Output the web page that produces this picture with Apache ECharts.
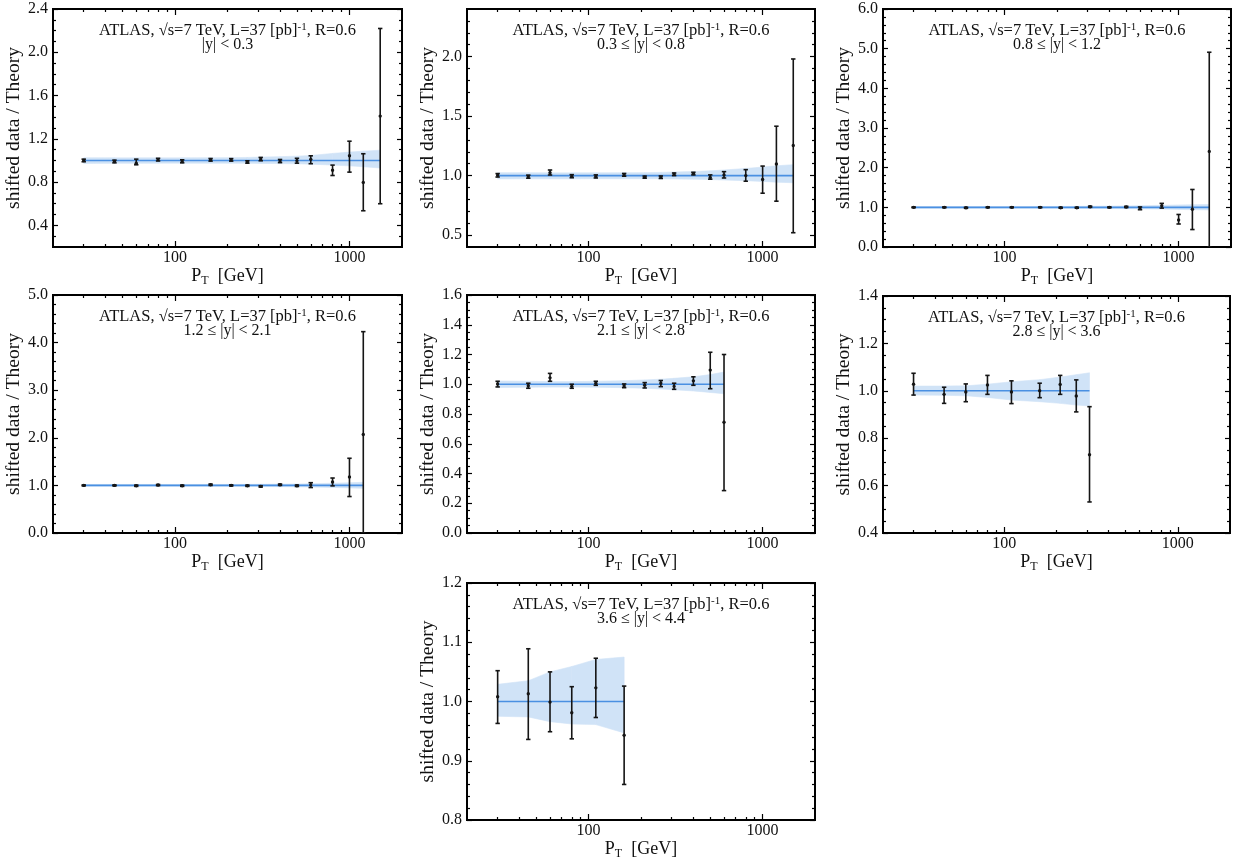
<!DOCTYPE html>
<html><head><meta charset="utf-8">
<script src="https://cdn.jsdelivr.net/npm/echarts@6/dist/echarts.min.js"></script>
<style>html,body{margin:0;padding:0;background:#fff}#c{width:1239px;height:861px}</style>
</head><body><div id="c"></div>
<script>
// ---------------- data ----------------
const ptBins = [30,45,60,80,110,160,210,260,310,400,500,600,800,1000,1200,1500];
const THEORY = 1.0;

const rapidityBins = ['|y| < 0.3','0.3 ≤ |y| < 0.8','0.8 ≤ |y| < 1.2','1.2 ≤ |y| < 2.1','2.1 ≤ |y| < 2.8','2.8 ≤ |y| < 3.6','3.6 ≤ |y| < 4.4'];

// |y| < 0.3
const p1Ratio  = [1.000,0.990,0.975,1.008,0.990,1.006,1.005,0.985,1.012,0.994,0.997,1.010,0.910,1.043,0.797,1.410];
const p1ErrLo  = [0.988,0.978,0.960,0.995,0.978,0.994,0.994,0.975,0.997,0.980,0.975,0.970,0.861,0.892,0.535,0.600];
const p1ErrHi  = [1.012,1.003,1.012,1.020,1.006,1.018,1.017,0.997,1.028,1.009,1.020,1.043,0.957,1.178,1.062,2.220];
const p1BandHi = [1.025,1.024,1.024,1.024,1.024,1.025,1.026,1.028,1.031,1.035,1.040,1.046,1.065,1.077,1.086,1.095];
const p1BandLo = [0.973,0.974,0.974,0.975,0.975,0.975,0.975,0.974,0.973,0.971,0.969,0.966,0.957,0.950,0.942,0.930];

// 0.3 <= |y| < 0.8
const p2Ratio  = [1.003,0.990,1.025,0.995,0.992,1.006,0.986,0.986,1.011,1.017,0.985,1.006,1.000,0.967,1.097,1.253];
const p2ErrLo  = [0.988,0.978,1.005,0.982,0.980,0.995,0.978,0.976,1.000,1.006,0.970,0.980,0.953,0.852,0.785,0.520];
const p2ErrHi  = [1.017,1.004,1.047,1.008,1.006,1.018,0.996,0.997,1.022,1.028,1.006,1.033,1.050,1.080,1.415,1.980];
const p2BandHi = [1.025,1.024,1.023,1.023,1.023,1.024,1.025,1.027,1.030,1.034,1.040,1.047,1.060,1.072,1.082,1.092];
const p2BandLo = [0.972,0.973,0.973,0.973,0.974,0.974,0.974,0.973,0.972,0.970,0.967,0.963,0.957,0.951,0.945,0.940];

// 0.8 <= |y| < 1.2
const p3Ratio  = [1.000,1.000,0.988,1.000,1.000,1.000,0.990,0.990,1.015,1.000,1.010,0.975,1.040,0.680,0.950,2.410];
const p3ErrLo  = [0.990,0.990,0.975,0.990,0.990,0.990,0.978,0.978,1.000,0.988,0.995,0.940,0.980,0.580,0.440,0.000];
const p3ErrHi  = [1.010,1.010,1.000,1.010,1.010,1.010,1.002,1.002,1.030,1.012,1.025,1.010,1.100,0.820,1.450,4.910];
const p3BandHi = [1.020,1.020,1.020,1.020,1.020,1.020,1.022,1.024,1.027,1.030,1.035,1.040,1.050,1.060,1.065,1.070];
const p3BandLo = [0.978,0.978,0.978,0.978,0.978,0.978,0.977,0.975,0.973,0.970,0.966,0.962,0.955,0.948,0.940,0.935];

// 1.2 <= |y| < 2.1
const p4Ratio  = [1.000,1.000,0.993,1.007,0.993,1.014,1.000,0.993,0.979,1.014,0.993,1.007,1.070,1.177,2.070];
const p4ErrLo  = [0.990,0.990,0.980,0.995,0.980,1.000,0.988,0.980,0.965,1.000,0.978,0.955,0.990,0.766,0.000];
const p4ErrHi  = [1.010,1.010,1.006,1.019,1.006,1.028,1.012,1.006,0.993,1.028,1.008,1.057,1.155,1.570,4.230];
const p4BandHi = [1.020,1.020,1.020,1.020,1.020,1.020,1.020,1.022,1.024,1.027,1.030,1.035,1.045,1.055,1.065];
const p4BandLo = [0.980,0.980,0.980,0.980,0.980,0.980,0.980,0.978,0.976,0.973,0.970,0.966,0.958,0.948,0.938];

// 2.1 <= |y| < 2.8
const p5Ratio  = [1.002,0.990,1.043,0.986,1.007,0.989,0.993,1.007,0.986,1.023,1.095,0.745];
const p5ErrLo  = [0.982,0.973,1.020,0.973,0.993,0.977,0.975,0.984,0.966,0.993,0.970,0.285];
const p5ErrHi  = [1.020,1.007,1.073,1.000,1.020,1.002,1.011,1.025,1.007,1.050,1.215,1.200];
const p5BandHi = [1.022,1.020,1.018,1.018,1.020,1.024,1.029,1.034,1.040,1.050,1.065,1.082];
const p5BandLo = [0.978,0.980,0.981,0.981,0.980,0.977,0.973,0.968,0.963,0.955,0.945,0.936];

// 2.8 <= |y| < 3.6
const p6Ratio  = [1.028,0.985,0.995,1.025,0.995,1.000,1.027,0.978,0.730];
const p6ErrLo  = [0.982,0.947,0.954,0.985,0.946,0.971,0.985,0.911,0.531];
const p6ErrHi  = [1.074,1.015,1.029,1.065,1.042,1.032,1.065,1.046,0.933];
const p6BandHi = [1.020,1.020,1.021,1.028,1.038,1.047,1.058,1.068,1.076];
const p6BandLo = [0.982,0.981,0.979,0.972,0.961,0.954,0.947,0.940,0.936];

// 3.6 <= |y| < 4.4
const p7Ratio  = [1.008,1.013,0.999,0.981,1.023,0.943];
const p7ErrLo  = [0.963,0.936,0.949,0.937,0.973,0.860];
const p7ErrHi  = [1.052,1.089,1.050,1.025,1.073,1.026];
const p7BandHi = [1.029,1.035,1.050,1.059,1.071,1.075];
const p7BandLo = [0.975,0.974,0.966,0.962,0.961,0.947];

// tick labels
const xMajorTicks = [100, 1000];
const xMinorTicks = [30,40,50,60,70,80,90,200,300,400,500,600,700,800,900];
const yMajor1 = [0.4,0.8,1.2,1.6,2.0,2.4];
const yMajor2 = [0.5,1.0,1.5,2.0];
const yMajor3 = [0,1,2,3,4,5,6];
const yMajor4 = [0,1,2,3,4,5];
const yMajor5 = [0,0.2,0.4,0.6,0.8,1.0,1.2,1.4,1.6];
const yMajor6 = [0.4,0.6,0.8,1.0,1.2,1.4];
const yMajor7 = [0.8,0.9,1.0,1.1,1.2];

// ---------------- layout ----------------
const FONT = '"Liberation Serif","Times New Roman",serif';
const BAND = '#d0e3f7';
const panels = [
  {box:[53,9,349,238],  yMin:0.2, yMax:2.4, major:yMajor1, minorStep:0.1,  gap:23, val:p1Ratio, lo:p1ErrLo, hi:p1ErrHi, bHi:p1BandHi, bLo:p1BandLo},
  {box:[467,9,348,238], yMin:0.4, yMax:2.4, major:yMajor2, minorStep:0.1,  gap:27, val:p2Ratio, lo:p2ErrLo, hi:p2ErrHi, bHi:p2BandHi, bLo:p2BandLo},
  {box:[883,9,348,238], yMin:0,   yMax:6,   major:yMajor3, minorStep:0.2,  gap:29, val:p3Ratio, lo:p3ErrLo, hi:p3ErrHi, bHi:p3BandHi, bLo:p3BandLo},
  {box:[53,295,349,238],yMin:0,   yMax:5,   major:yMajor4, minorStep:0.2,  gap:23, val:p4Ratio, lo:p4ErrLo, hi:p4ErrHi, bHi:p4BandHi, bLo:p4BandLo},
  {box:[467,295,348,238],yMin:0,  yMax:1.6, major:yMajor5, minorStep:0.05, gap:27, val:p5Ratio, lo:p5ErrLo, hi:p5ErrHi, bHi:p5BandHi, bLo:p5BandLo},
  {box:[883,296,347,237],yMin:0.4,yMax:1.4, major:yMajor6, minorStep:0.05, gap:29, val:p6Ratio, lo:p6ErrLo, hi:p6ErrHi, bHi:p6BandHi, bLo:p6BandLo},
  {box:[467,583,348,237],yMin:0.8,yMax:1.2, major:yMajor7, minorStep:0.02, gap:23, val:p7Ratio, lo:p7ErrLo, hi:p7ErrHi, bHi:p7BandHi, bLo:p7BandLo}
];

function minorTicks(min, max, step, majors) {
  const out = [];
  const n = Math.round((max - min) / step);
  for (let i = 0; i <= n; i++) {
    const v = Math.round((min + i * step) * 1e6) / 1e6;
    if (!majors.some(m => Math.abs(m - v) < 1e-9) && v > min + 1e-9 && v < max - 1e-9) out.push(v);
  }
  return out;
}

function renderErr(params, api) {
  const x = api.value(0), y = api.value(1), lo = api.value(2), hi = api.value(3);
  const pLo = api.coord([x, lo]), pHi = api.coord([x, hi]), p = api.coord([x, y]);
  const cw = 2.2, col = '#151515', lw = 1.6;
  return {type:'group', children:[
    {type:'line', shape:{x1:pLo[0], y1:pLo[1], x2:pHi[0], y2:pHi[1]}, style:{stroke:col, lineWidth:lw}},
    {type:'line', shape:{x1:pLo[0]-cw, y1:pLo[1], x2:pLo[0]+cw, y2:pLo[1]}, style:{stroke:col, lineWidth:lw}},
    {type:'line', shape:{x1:pHi[0]-cw, y1:pHi[1], x2:pHi[0]+cw, y2:pHi[1]}, style:{stroke:col, lineWidth:lw}},
    {type:'circle', shape:{cx:p[0], cy:p[1], r:1.7}, style:{fill:col}}
  ]};
}

function renderBand(params, api) {
  const x0 = api.value(0), lo0 = api.value(1), hi0 = api.value(2);
  const x1 = api.value(3), lo1 = api.value(4), hi1 = api.value(5);
  const pts = [api.coord([x0, hi0]), api.coord([x1, hi1]), api.coord([x1, lo1]), api.coord([x0, lo0])];
  return {type:'polygon', shape:{points:pts}, style:{fill:BAND, stroke:BAND, lineWidth:0.6}};
}

const tickStyle = {color:'#000', width:1.2};
const option = {animation:false, backgroundColor:'#fff', grid:[], xAxis:[], yAxis:[], series:[], title:[]};

panels.forEach((p, i) => {
  const [L, T, W, H] = p.box;
  option.grid.push({left:L, top:T, width:W, height:H, show:true, borderColor:'#000', borderWidth:2, backgroundColor:'transparent'});
  const xi = option.xAxis.length, yi = option.yAxis.length;
  const xBase = {gridIndex:i, type:'log', logBase:10, min:20, max:2000, axisLine:{show:false, onZero:false}, splitLine:{show:false}, axisPointer:{show:false}};
  option.xAxis.push(Object.assign({}, xBase, {position:'bottom',
    axisTick:{inside:true, length:6, customValues:xMajorTicks, lineStyle:tickStyle},
    axisLabel:{customValues:xMajorTicks, margin:3, fontFamily:FONT, fontSize:16, color:'#111', formatter:v => String(Math.round(v))},
    name:'{p|P}{s|T}{p|  [GeV]}', nameLocation:'middle', nameGap:7,
    nameTextStyle:{rich:{p:{fontFamily:FONT, fontSize:18, color:'#111'}, s:{fontFamily:FONT, fontSize:12, color:'#111', verticalAlign:'bottom', padding:[10,0,0,0]}}}
  }));
  option.xAxis.push(Object.assign({}, xBase, {position:'bottom', axisTick:{inside:true, length:3, customValues:xMinorTicks, lineStyle:tickStyle}, axisLabel:{show:false}}));
  option.xAxis.push(Object.assign({}, xBase, {position:'top', axisTick:{inside:true, length:6, customValues:xMajorTicks, lineStyle:tickStyle}, axisLabel:{show:false}}));
  option.xAxis.push(Object.assign({}, xBase, {position:'top', axisTick:{inside:true, length:3, customValues:xMinorTicks, lineStyle:tickStyle}, axisLabel:{show:false}}));

  const minors = minorTicks(p.yMin, p.yMax, p.minorStep, p.major);
  const yBase = {gridIndex:i, type:'value', min:p.yMin, max:p.yMax, axisLine:{show:false, onZero:false}, splitLine:{show:false}, axisPointer:{show:false}};
  option.yAxis.push(Object.assign({}, yBase, {position:'left',
    axisTick:{inside:true, length:5, customValues:p.major, lineStyle:tickStyle},
    axisLabel:{customValues:p.major, margin:5, fontFamily:FONT, fontSize:16, color:'#111', formatter:v => v.toFixed(1)},
    name:'shifted data / Theory', nameLocation:'middle', nameRotate:90, nameGap:p.gap,
    nameTextStyle:{fontFamily:FONT, fontSize:19.5, color:'#111'}
  }));
  option.yAxis.push(Object.assign({}, yBase, {position:'left', axisTick:{inside:true, length:3, customValues:minors, lineStyle:tickStyle}, axisLabel:{show:false}}));
  option.yAxis.push(Object.assign({}, yBase, {position:'right', axisTick:{inside:true, length:5, customValues:p.major, lineStyle:tickStyle}, axisLabel:{show:false}}));
  option.yAxis.push(Object.assign({}, yBase, {position:'right', axisTick:{inside:true, length:3, customValues:minors, lineStyle:tickStyle}, axisLabel:{show:false}}));

  const xs = ptBins.slice(0, p.val.length);
  const segs = [];
  for (let k = 0; k < xs.length - 1; k++) segs.push([xs[k], p.bLo[k], p.bHi[k], xs[k+1], p.bLo[k+1], p.bHi[k+1]]);
  option.series.push({type:'custom', xAxisIndex:xi, yAxisIndex:yi, clip:true, silent:true, renderItem:renderBand,
    encode:{x:[0,3], y:[1,2,4,5]}, data:segs, z:1});
  option.series.push({type:'line', xAxisIndex:xi, yAxisIndex:yi, symbol:'none', silent:true,
    lineStyle:{color:'#4a90e2', width:1.6}, data:xs.map(x => [x, THEORY]), z:2});
  option.series.push({type:'custom', xAxisIndex:xi, yAxisIndex:yi, clip:true, silent:true, renderItem:renderErr,
    encode:{x:0, y:[1,2,3]}, data:xs.map((x,k) => [x, p.val[k], p.lo[k], p.hi[k]]), z:3});

  option.title.push({
    text:'{t|ATLAS, √s=7 TeV, L=37 [pb]}{u|-1}{t|, R=0.6}',
    subtext:rapidityBins[i],
    left:L + W/2, top:T + 13, textAlign:'center', itemGap:-2, padding:0,
    textStyle:{fontWeight:'normal', rich:{t:{fontFamily:FONT, fontSize:16.5, fontWeight:'normal', color:'#111'}, u:{fontFamily:FONT, fontSize:11, fontWeight:'normal', color:'#111', verticalAlign:'top', padding:[0,0,6,0]}}},
    subtextStyle:{fontFamily:FONT, fontSize:16, color:'#111'}
  });
});

const chart = echarts.init(document.getElementById('c'), null, {renderer:'canvas'});
chart.setOption(option);
</script>
</body></html>
